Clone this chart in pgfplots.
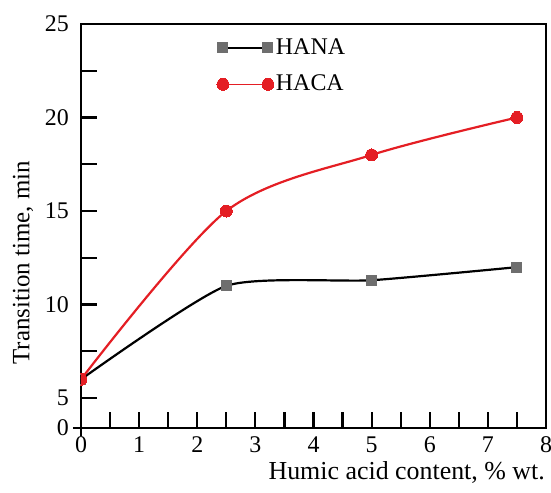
\documentclass[border=0pt]{standalone}
\usepackage{fontspec}
\setmainfont{Liberation Serif}
\usepackage{pgfplots}
\pgfplotsset{compat=1.18}
\definecolor{hred}{RGB}{228,30,36}
\definecolor{hgray}{RGB}{110,110,110}
\begin{document}
\fontsize{24}{28}\selectfont
\begin{tikzpicture}
\path[use as bounding box] (-81bp,-65bp) rectangle (470bp,428bp);
\begin{axis}[
  at={(0,0)}, anchor=south west,
  scale only axis, width=465bp, height=404bp,
  xmin=0, xmax=8, ymin=3.4, ymax=25,
  axis line style={line width=1.8bp},
  every tick/.style={line width=2.2bp, black},
  tick align=inside,
  xtick pos=bottom, ytick pos=left,
  major tick length=16bp, minor tick length=16bp,
  xtick={0,1,2,3,4,5,6,7,8},
  minor xtick={0.5,1.5,2.5,3.5,4.5,5.5,6.5,7.5},
  ytick={3.4,5,10,15,20,25},
  yticklabels={0,5,10,15,20,25},
  minor ytick={7.5,12.5,17.5,22.5},
  /pgf/number format/assume math mode=true,
  tick label style={font=\fontsize{24}{28}\selectfont},
  xticklabel style={inner sep=0.5bp, yshift=-8bp},
  yticklabel style={xshift=-4bp},
  xlabel={Humic acid content, \% wt.},
  ylabel={Transition time, min},
  xlabel style={at={(axis description cs:1,0)}, anchor=base east, inner sep=0pt, yshift=-51bp, xshift=-1bp, font=\fontsize{26}{30}\selectfont},
  ylabel style={at={([xshift=-58bp]axis description cs:0,0.409)}, anchor=center, font=\fontsize{25}{28}\selectfont},
  legend style={at={(axis description cs:0.292,0.97)}, anchor=north west, draw=none, fill=none, inner sep=0pt, row sep=13bp, font=\fontsize{24}{28}\selectfont},
  legend cell align=left,
  legend image code/.code={\draw[#1, line width=1.6bp] plot coordinates {(0bp,0bp) (45bp,0bp)};},
  clip marker paths=true,
]
\addplot[black, line width=2.2bp, smooth, tension=0.35, mark=square*, mark size=5bp, mark options={fill=hgray, draw=hgray, line width=0pt}]
  coordinates {(0,6) (2.5,11) (5,11.3) (7.5,12)};
\addlegendentry{HANA}
\addplot[hred, line width=2.2bp, smooth, tension=0.5, mark=*, mark size=6bp, mark options={fill=hred, draw=hred, line width=0pt}]
  coordinates {(0,6) (2.5,15) (5,18) (7.5,20)};
\addlegendentry{HACA}
\end{axis}
\draw[line width=1.8bp] (-8bp,0) -- (0,0);
\draw[line width=1.8bp] (0,-8bp) -- (0,0);
\end{tikzpicture}
\end{document}
